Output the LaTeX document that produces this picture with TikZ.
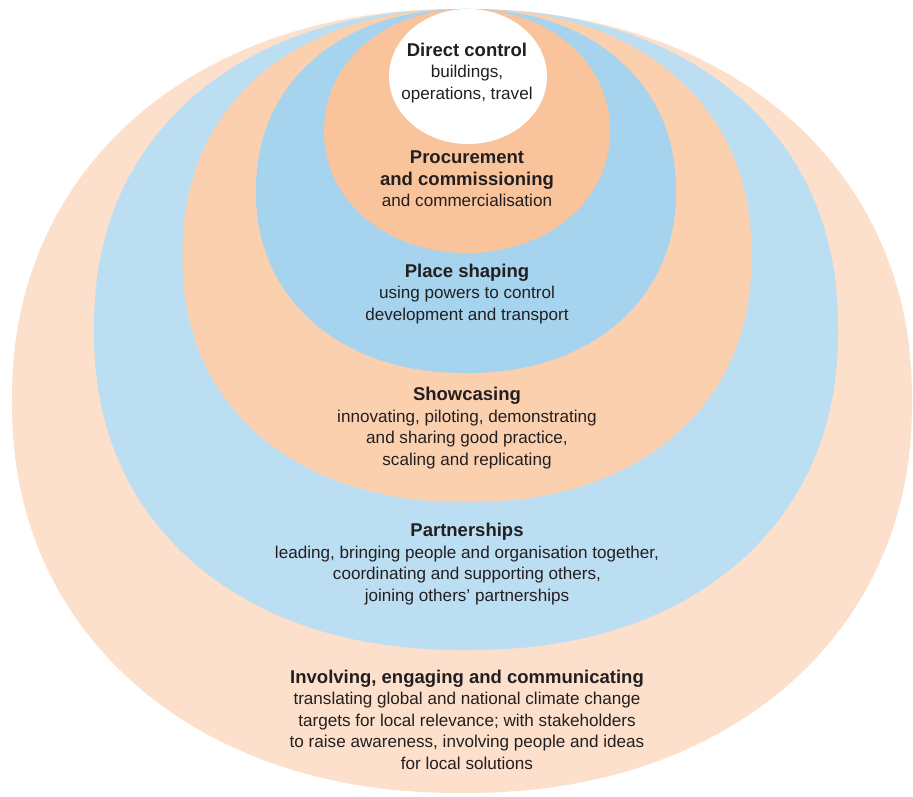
\documentclass[tikz,border=0pt]{standalone}
\usepackage{fontspec}
\setmainfont{Liberation Sans}
\definecolor{peachA}{HTML}{FCE0CB}
\definecolor{blueA}{HTML}{BCDEF2}
\definecolor{peachB}{HTML}{FBD0AE}
\definecolor{blueB}{HTML}{A6D3EE}
\definecolor{peachC}{HTML}{F9C49B}
\definecolor{txt}{HTML}{231F20}
% superellipse: colour, cx, cy, rx, ry, exponent
\newcommand{\sellipse}[6]{%
  \fill[#1] plot[domain=0.5:359.5,samples=360]
    ({#2+#4*sign(cos(\x))*pow(abs(cos(\x)),2/#6)},
     {#3+#5*sign(sin(\x))*pow(abs(sin(\x)),2/#6)}) -- cycle;}
\newcommand{\hd}[1]{{\fontsize{18.5}{21.5}\selectfont\bfseries #1}}
\begin{document}
\begin{tikzpicture}[x=1pt,y=-1pt,
  lbl/.style={align=center,inner sep=0pt,text=txt,font=\fontsize{17.1}{21.5}\selectfont}]
\useasboundingbox (0,0) rectangle (913,796);
\fill[white] (0,0) rectangle (913,796);
\sellipse{peachA}{462}{401}{450}{392}{2.15}
\sellipse{blueA}{466}{329.5}{372}{320.5}{2.2}
\sellipse{peachB}{467}{255.5}{284.5}{246.5}{2.2}
\sellipse{blueB}{466}{191}{210}{182}{2.15}
\sellipse{peachC}{467}{131}{143}{122}{2.05}
\fill[white] (468,76.5) ellipse [x radius=79pt, y radius=67.5pt];
\node[lbl] (direct) at (467,73) {\hd{Direct control}\\buildings,\\operations, travel};
\node[lbl] (proc) at (467,179) {\hd{Procurement}\\\hd{and commissioning}\\and commercialisation};
\node[lbl] (place) at (467,294) {\hd{Place shaping}\\using powers to control\\development and transport};
\node[lbl] (show) at (467,428) {\hd{Showcasing}\\innovating, piloting, demonstrating\\and sharing good practice,\\scaling and replicating};
\node[lbl] (part) at (467,564) {\hd{Partnerships}\\leading, bringing people and organisation together,\\coordinating and supporting others,\\joining others’ partnerships};
\node[lbl] (inv) at (467,719.5) {\hd{Involving, engaging and communicating}\\translating global and national climate change\\targets for local relevance; with stakeholders\\to raise awareness, involving people and ideas\\for local solutions};
\end{tikzpicture}
\end{document}
